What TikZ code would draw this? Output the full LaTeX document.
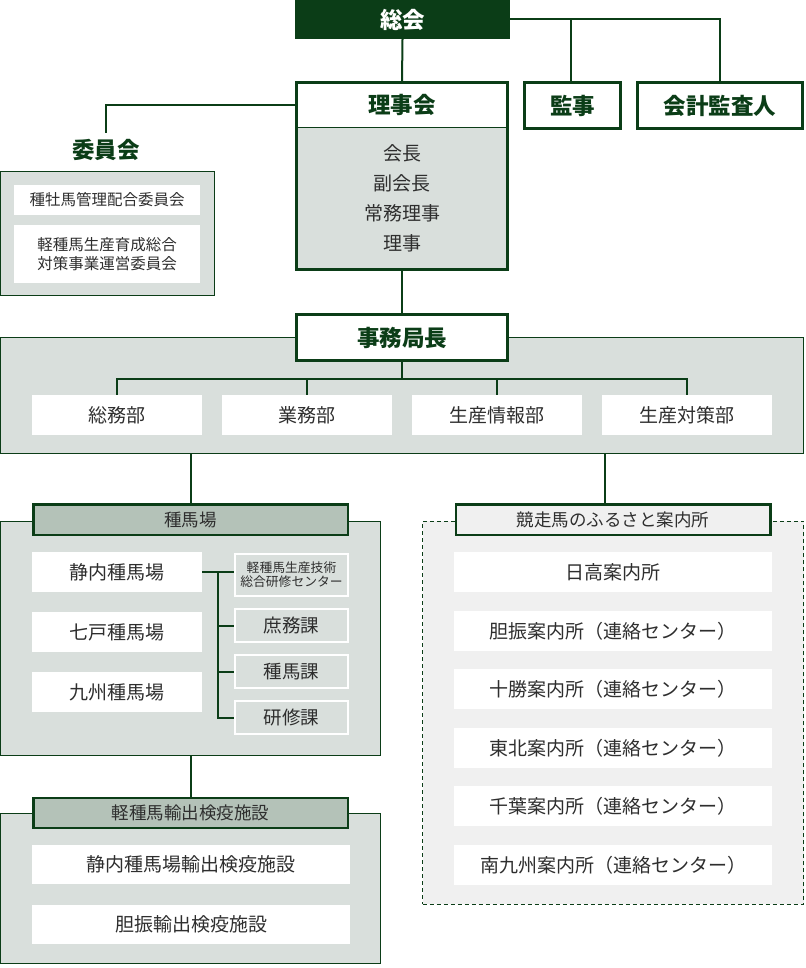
\documentclass[tikz,border=0pt]{standalone}
\usepackage{fontspec}
\setmainfont{Noto Sans CJK JP}
\usetikzlibrary{calc}
\definecolor{dkgreen}{HTML}{0B3D17}
\definecolor{panelgrey}{HTML}{D9DFDC}
\definecolor{hdrgrey}{HTML}{B4C2B8}
\definecolor{lightgrey}{HTML}{F0F0F0}
\definecolor{txt}{HTML}{2E2E2E}
\newcommand{\fs}[1]{\fontsize{#1}{#1}\selectfont}
\tikzset{
  conn/.style={draw=dkgreen, line width=2pt},
  darkbox/.style={fill=dkgreen, text=white, font=\bfseries\fs{22.5}, inner sep=0pt},
  gbox/.style={draw=dkgreen, line width=2.8pt, fill=white, text=dkgreen, font=\bfseries\fs{22.5}, inner sep=0pt},
  frame/.style={draw=dkgreen, line width=2.8pt, inner sep=0pt},
  wbox/.style={fill=white, text=txt, font=\fs{19}, inner sep=0pt, minimum width=170pt, minimum height=40pt},
  wide/.style={wbox, minimum width=318pt},
  small/.style={fill=white, text=txt, font=\fs{15.5}, inner sep=0pt, minimum width=186pt, align=center},
  panel/.style={draw=dkgreen, line width=1pt, fill=panelgrey, inner sep=0pt},
  dpanel/.style={draw=dkgreen, line width=1pt, dash pattern=on 4pt off 3pt, fill=lightgrey, inner sep=0pt},
  hdr/.style={draw=dkgreen, line width=2.5pt, fill=hdrgrey, text=txt, font=\fs{17.5}, inner sep=0pt, minimum width=314.5pt, minimum height=30.5pt},
  sect/.style={draw=white, line width=2pt, fill=panelgrey, text=txt, font=\fs{18.5}, inner sep=0pt, minimum width=113pt, minimum height=33pt, align=center},
  member/.style={text=txt, font=\fs{19}, inner sep=0pt},
  glabel/.style={text=dkgreen, font=\bfseries\fs{22.5}, inner sep=0pt},
}
\begin{document}
\begin{tikzpicture}[x=1pt,y=-1pt]
\useasboundingbox (0,0) rectangle (805,968);

% ---- top ----
\node[darkbox, minimum width=215pt, minimum height=39pt] (sokai) at (402.5,19.5) {総会};

\fill[white] (296.5,82.5) rectangle (507.5,128);
\fill[panelgrey] (296.5,128) rectangle (507.5,269.5);
\draw[dkgreen, line width=1pt] (296.5,128) -- (507.5,128);
\node[frame, minimum width=211pt, minimum height=187pt] (rijiframe) at (402,176) {};
\node[glabel] (rijikai) at (402,105) {理事会};
\node[member] (kaicho) at (402,153) {会長};
\node[member] (fukukaicho) at (402,183) {副会長};
\node[member] (jomu) at (402,213) {常務理事};
\node[member] (riji) at (402,243) {理事};

\node[gbox, minimum width=96pt, minimum height=46pt] (kanji) at (572.5,105.5) {監事};
\node[gbox, minimum width=165pt, minimum height=46pt] (kaikei) at (720,105.5) {会計監査人};

\draw[conn] (sokai.south) -- (rijiframe.north);
\draw[conn] (sokai.east) -| (kaikei.north);
\draw[conn] (kanji.north -| 571,0) -- (sokai.east -| 571,0);

% ---- committee ----
\node[glabel] (iinkai) at (106,150) {委員会};
\draw[conn] (rijiframe.west |- rijikai) -| ($(iinkai.north)+(0,-6)$);
\node[panel, minimum width=214pt, minimum height=124pt] (iinpanel) at (107.5,233.5) {};
\node[small, minimum height=30pt] (shubo) at (107,200) {種牡馬管理配合委員会};
\node[small, minimum height=58pt] (keishu) at (107,254) {軽種馬生産育成総合\\[4pt]対策事業運営委員会};

% ---- secretariat ----
\node[panel, minimum width=803pt, minimum height=116pt] (jimupanel) at (402,395.5) {};
\node[gbox, minimum width=211pt, minimum height=46pt] (jimu) at (402,337.5) {事務局長};
\draw[conn] (rijiframe.south) -- (jimu.north);
\coordinate (busY) at (0,379);
\node[wbox] (somu) at (117,415) {総務部};
\node[wbox] (gyomu) at (307,415) {業務部};
\node[wbox] (joho) at (497,415) {生産情報部};
\node[wbox] (taisaku) at (687,415) {生産対策部};
\foreach \d in {somu,gyomu,joho,taisaku}
  \draw[conn] (jimu.south) |- (\d.north |- busY) -- (\d.north);

% ---- stud farms ----
\node[panel, minimum width=380pt, minimum height=234pt] (shupanel) at (190.5,638.5) {};
\node[hdr] (shubaba) at (190.5,519.5) {種馬場};
\draw[conn] (jimupanel.south -| shubaba.north) -- (shubaba.north);

\node[wbox] (seinai) at (117,572) {静内種馬場};
\node[wbox] (shichinohe) at (117,632) {七戸種馬場};
\node[wbox] (kyushu) at (117,692) {九州種馬場};

\node[sect, minimum height=42pt, font=\fs{12.8}] (center) at (291.5,575) {軽種馬生産技術\\[1pt]総合研修センター};
\node[sect] (shomuka) at (291.5,625.5) {庶務課};
\node[sect] (shubaka) at (291.5,671.5) {種馬課};
\node[sect] (kenshuka) at (291.5,717.5) {研修課};

\coordinate (trunk) at (218,572);
\draw[conn] (seinai.east) -- (seinai.east -| center.west);
\draw[conn] (trunk) |- (kenshuka.west);
\draw[conn] (trunk |- shomuka.west) -- (shomuka.west);
\draw[conn] (trunk |- shubaka.west) -- (shubaka.west);

% ---- export quarantine ----
\node[panel, minimum width=380pt, minimum height=150pt] (yupanel) at (190.5,888) {};
\node[hdr, minimum height=30pt] (yushutsu) at (190.5,813) {軽種馬輸出検疫施設};
\draw[conn] (shupanel.south) -- (yushutsu.north);
\node[wide, minimum height=39pt] (seinaiyu) at (191,864.5) {静内種馬場輸出検疫施設};
\node[wide, minimum height=39pt] (iburiyu) at (191,924.5) {胆振輸出検疫施設};

% ---- information offices ----
\node[dpanel, minimum width=381pt, minimum height=383pt] (kyopanel) at (613,712.5) {};
\node[hdr, fill=lightgrey] (kyoso) at (613,519.5) {競走馬のふるさと案内所};
\coordinate (kline) at (605,0);
\draw[conn] (jimupanel.south -| kline) -- (kyoso.north -| kline);

\node[wide] (hidaka) at (613,572) {日高案内所};
\node[wide] (iburi) at (613,631) {胆振案内所（連絡センター）};
\node[wide] (tokachi) at (613,689) {十勝案内所（連絡センター）};
\node[wide] (tohoku) at (613,748) {東北案内所（連絡センター）};
\node[wide] (chiba) at (613,806) {千葉案内所（連絡センター）};
\node[wide] (minamikyushu) at (613,865) {南九州案内所（連絡センター）};
\end{tikzpicture}
\end{document}
